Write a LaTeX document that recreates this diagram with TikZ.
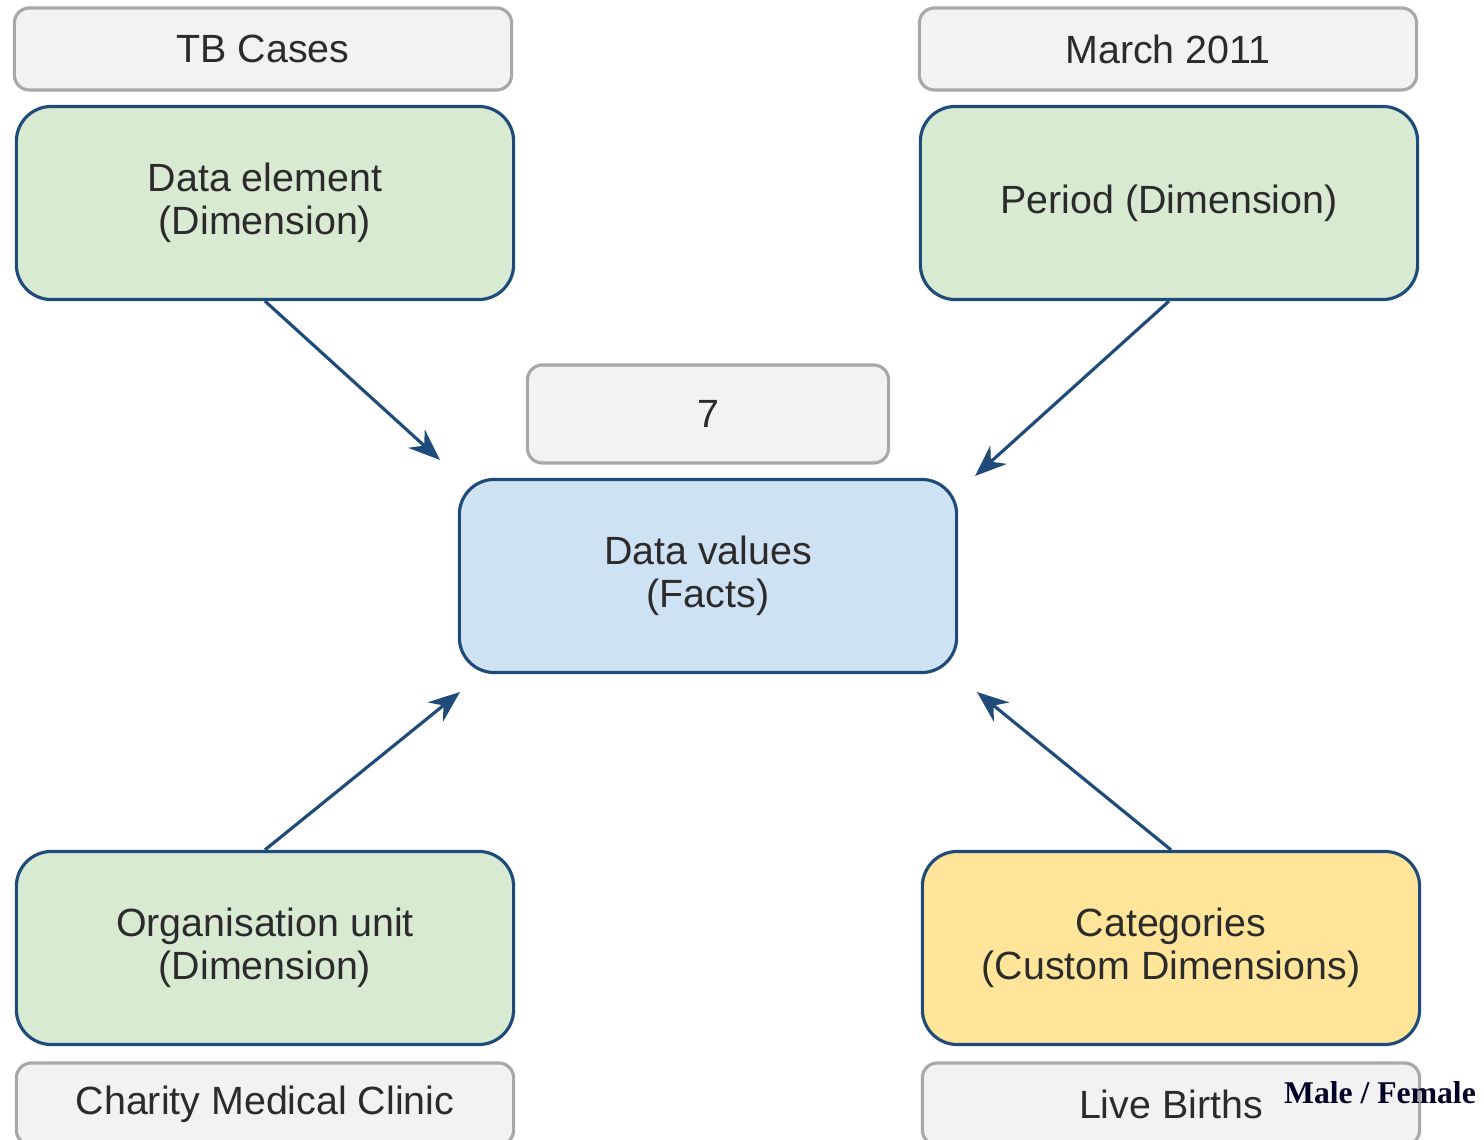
\documentclass[tikz,border=0pt]{standalone}
\usepackage{fontspec}
\setmainfont{Liberation Sans}
\newfontfamily\timesfont{Liberation Serif}
\usepackage{tikz}
\usetikzlibrary{arrows.meta}

\definecolor{boxline}{HTML}{1E4B79}
\definecolor{tagfill}{HTML}{F2F2F2}
\definecolor{tagline}{HTML}{A8A8A8}
\definecolor{dimfill}{HTML}{D9EAD3}
\definecolor{factfill}{HTML}{CFE2F3}
\definecolor{catfill}{HTML}{FFE599}
\definecolor{txt}{HTML}{2B2B2B}

\begin{document}
\begin{tikzpicture}[x=0.01cm, y=-0.01cm,
  tag/.style={draw=tagline, fill=tagfill, line width=0.9pt, rounded corners=0.15cm,
    minimum width=4.97cm, minimum height=0.82cm, inner sep=0pt, text=txt},
  dim/.style={draw=boxline, fill=dimfill, line width=0.9pt, rounded corners=0.35cm,
    minimum width=4.97cm, minimum height=1.93cm, align=center, inner sep=0pt, text=txt},
  link/.style={draw=boxline, line width=0.9pt, -{Stealth[length=9pt, width=7pt]}}]

  \useasboundingbox (0,0) rectangle (1484,1140);
  \clip (0,0) rectangle (1484,1140);
  \fontsize{11.2}{12.2}\selectfont

  % top row
  \node[tag] (tb) at (263, 49) {TB Cases};
  \node[dim] (de) at (265, 203) {Data element\\(Dimension)};
  \node[tag] (mar) at (1168, 49) {March 2011};
  \node[dim] (per) at (1169, 203) {Period (Dimension)};

  % middle
  \node[tag, minimum width=3.61cm, minimum height=0.98cm] (val) at (708, 414) {7};
  \node[dim, fill=factfill] (dv) at (708, 576) {Data values\\(Facts)};

  % bottom row
  \node[dim] (ou) at (265, 948) {Organisation unit\\(Dimension)};
  \node[dim, fill=catfill] (cat) at (1171, 948) {Categories\\(Custom Dimensions)};
  \node[tag] (cmc) at (265, 1104) {Charity Medical Clinic};
  \node[tag] (lb) at (1171, 1104) {Live Births};
  \node[font=\timesfont\bfseries\fontsize{9}{10}\selectfont, text=black!85!blue, inner sep=0pt]
    (mf) at (1380, 1093) {Male / Female};

  % free ends of the arrows
  \coordinate (deEnd) at (440, 460);
  \coordinate (perEnd) at (975, 476);
  \coordinate (ouEnd) at (460, 692);
  \coordinate (catEnd) at (977, 692);

  \draw[link] (de.south) -- (deEnd); %% de->dv
  \draw[link] (per.south) -- (perEnd); %% per->dv
  \draw[link] (ou.north) -- (ouEnd); %% ou->dv
  \draw[link] (cat.north) -- (catEnd); %% cat->dv

\end{tikzpicture}
\end{document}
